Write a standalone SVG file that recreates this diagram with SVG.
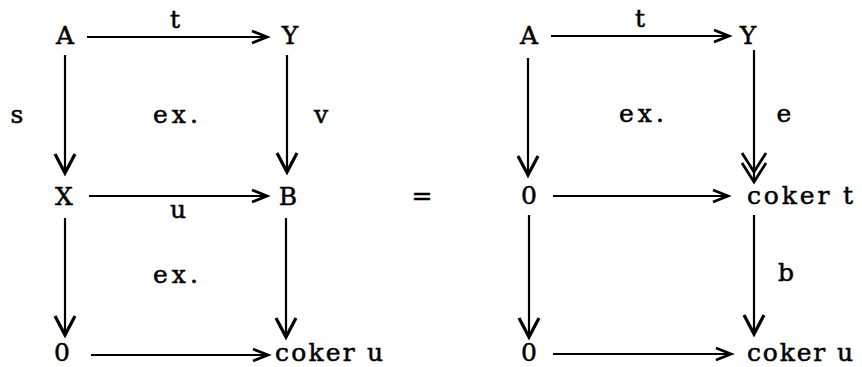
<svg xmlns="http://www.w3.org/2000/svg" width="862" height="367" viewBox="0 0 862 367">
<style>
text{font-family:"DejaVu Serif","Liberation Serif",serif;font-size:25px;fill:#000;stroke:#000;stroke-width:0.5}
.c{text-anchor:middle}
.s{text-anchor:start}
line{stroke:#000;stroke-width:2.2}
</style>
<defs>
<marker id="h" markerUnits="userSpaceOnUse" markerWidth="40" markerHeight="40" viewBox="-30 -20 40 40" refX="0" refY="0" orient="auto" overflow="visible">
<path d="M-15,-6 L0,0 L-15,6" fill="none" stroke="#000" stroke-width="2.8" stroke-linejoin="miter"/>
</marker>
<marker id="v" markerUnits="userSpaceOnUse" markerWidth="40" markerHeight="40" viewBox="-30 -20 40 40" refX="0" refY="0" orient="auto" overflow="visible">
<path d="M-19,-10 L0,0 L-19,10" fill="none" stroke="#000" stroke-width="3.2"/>
</marker>
<marker id="vv" markerUnits="userSpaceOnUse" markerWidth="50" markerHeight="40" viewBox="-40 -20 50 40" refX="0" refY="0" orient="auto" overflow="visible">
<path d="M-19,-12 L0,0 L-19,12 M-29,-12 L-10,0 L-29,12" fill="none" stroke="#000" stroke-width="2.8"/>
</marker>
</defs>
<rect width="862" height="367" fill="#fff"/>
<g id="connectors">
<line x1="87" y1="37" x2="267" y2="37" marker-end="url(#h)"/>
<line x1="89" y1="196" x2="267" y2="196" marker-end="url(#h)"/>
<line x1="91" y1="355" x2="268" y2="355" marker-end="url(#h)"/>
<line x1="65" y1="55" x2="65" y2="173" marker-end="url(#v)"/>
<line x1="287" y1="55" x2="287" y2="172" marker-end="url(#v)"/>
<line x1="65" y1="218" x2="65" y2="335" marker-end="url(#v)"/>
<line x1="286" y1="218" x2="286" y2="337" marker-end="url(#v)"/>
<line x1="551" y1="36" x2="729" y2="36" marker-end="url(#h)"/>
<line x1="553" y1="196" x2="728" y2="196" marker-end="url(#h)"/>
<line x1="553" y1="354" x2="731" y2="354" marker-end="url(#h)"/>
<line x1="528" y1="58" x2="528" y2="175" marker-end="url(#v)"/>
<line x1="754" y1="50" x2="754" y2="182" marker-end="url(#vv)"/>
<line x1="529" y1="215" x2="529" y2="337" marker-end="url(#v)"/>
<line x1="754" y1="215" x2="754" y2="334" marker-end="url(#v)"/>
</g>
<g id="labels">
<text class="c" x="175" y="28">t</text>
<text class="c" x="17" y="123">s</text>
<text class="c" x="321" y="123">v</text>
<text class="s" x="153" y="123" textLength="45" lengthAdjust="spacing">ex.</text>
<text class="c" x="178" y="218">u</text>
<text class="s" x="153" y="283" textLength="45" lengthAdjust="spacing">ex.</text>
<text class="c" x="422" y="204">=</text>
<text class="c" x="640" y="27">t</text>
<text class="s" x="619" y="122" textLength="45" lengthAdjust="spacing">ex.</text>
<text class="c" x="784" y="122">e</text>
<text class="c" x="786" y="281">b</text>
</g>
<g id="nA1"><text class="c" x="65" y="44">A</text></g>
<g id="nY1"><text class="c" x="290" y="44">Y</text></g>
<g id="nX1"><text class="c" x="64" y="205">X</text></g>
<g id="nB1"><text class="c" x="288" y="205">B</text></g>
<g id="n01"><text class="c" x="62" y="361">0</text></g>
<g id="ncokeru1"><text class="s" x="275" y="361" textLength="108" lengthAdjust="spacing">coker u</text></g>
<g id="nA2"><text class="c" x="529" y="44">A</text></g>
<g id="nY2"><text class="c" x="748" y="44">Y</text></g>
<g id="n02"><text class="c" x="529" y="204">0</text></g>
<g id="ncokert2"><text class="s" x="747" y="204" textLength="106" lengthAdjust="spacing">coker t</text></g>
<g id="n03"><text class="c" x="529" y="361">0</text></g>
<g id="ncokeru2"><text class="s" x="747" y="361" textLength="106" lengthAdjust="spacing">coker u</text></g>
</svg>
